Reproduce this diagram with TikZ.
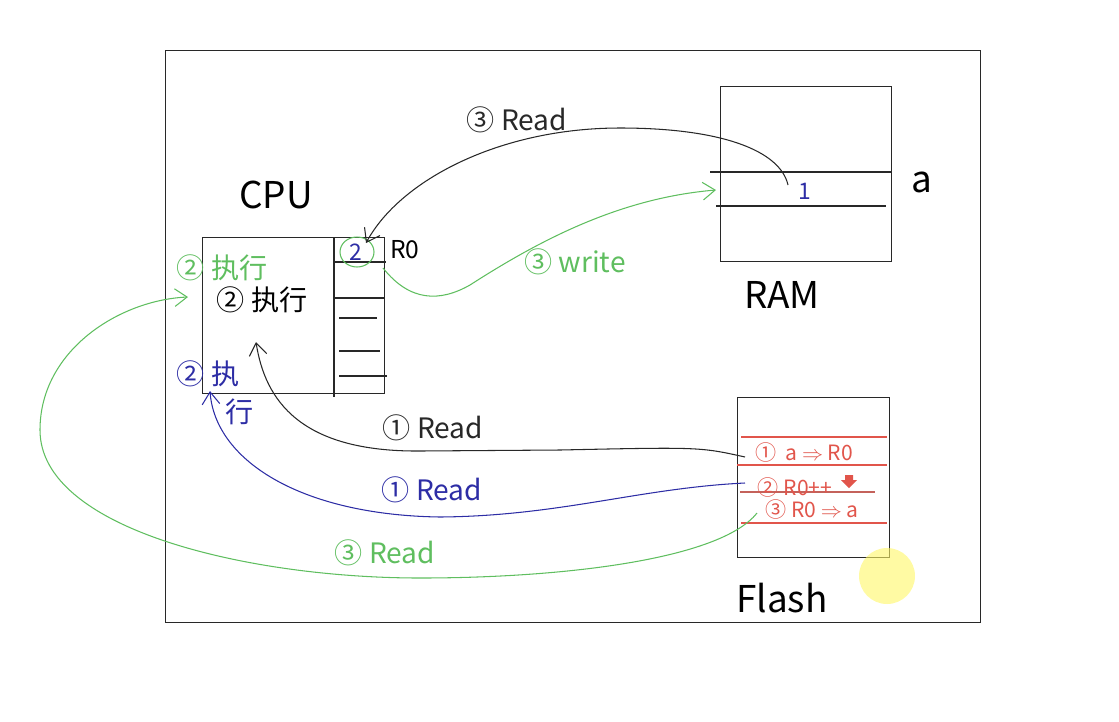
\documentclass[tikz,border=0pt]{standalone}
\usepackage{fontspec}
\setmainfont{Noto Sans CJK SC}
\usepackage{tikz}
\usetikzlibrary{arrows.meta, positioning}

\definecolor{inkblack}{RGB}{40,40,40}
\definecolor{inkgreen}{RGB}{95,190,95}
\definecolor{inkblue}{RGB}{45,45,165}
\definecolor{inkred}{RGB}{225,85,75}

\tikzset{
    box/.style={draw=inkblack, line width=0.8pt, inner sep=0pt, anchor=north west},
    ink/.style={line width=0.6pt},
    hand/.style={-{Straight Barb[length=7pt, width=10pt]}, line width=0.6pt},
    lbl/.style={inner sep=0pt, font=\fontsize{16}{16}\selectfont},
    big/.style={inner sep=0pt, font=\fontsize{21}{21}\selectfont},
    small/.style={inner sep=0pt, text=inkred, font=\fontsize{12}{12}\selectfont}
}

\begin{document}
\begin{tikzpicture}[x=0.02cm, y=-0.02cm]
        \useasboundingbox (0,0) rectangle (1119,721);

        \node[box, minimum width=16.3cm, minimum height=11.44cm] (frame) at (165,50) {};
        \node[box, minimum width=3.42cm, minimum height=3.5cm] (ram) at (720,86) {};
        \node[box, minimum width=3.64cm, minimum height=3.12cm] (cpu) at (202,237) {};
        \node[box, minimum width=3.04cm, minimum height=3.2cm] (flash) at (737,397) {};

        % RAM cell
        \draw[inkblack, ink] (710,172) -- (891,172);
        \draw[inkblack, ink] (716,206) -- (886,206);

        % CPU registers
        \draw[inkblack, ink] (334,237) -- (334,397);
        \draw[inkblack, ink] (334,262) -- (386,262);
        \draw[inkblack, ink] (334,298) -- (384,298);
        \draw[inkblack, ink] (339,318) -- (377,318);
        \draw[inkblack, ink] (339,351) -- (380,351);
        \draw[inkblack, ink] (339,376) -- (387,376);

        % Flash rows
        \draw[inkred, ink] (741,437) -- (887,437);
        \draw[inkred, ink] (737,465) -- (887,465);
        \draw[inkred!70!gray, ink] (740,492) -- (875,492);
        \draw[inkred, ink] (741,523) -- (887,523);

        \node[big] (cpulbl) at (276,195) {CPU};
        \node[big] (ramlbl) at (782,295) {RAM};
        \node[big] (flashlbl) at (782,598) {Flash};
        \node[big] (alabel) at (922,182) {a};
        \node[lbl, font=\fontsize{14}{14}\selectfont] (r0) at (405,250) {R0};
        \node[lbl, text=inkblue, font=\fontsize{13}{13}\selectfont] (regval) at (356,252) {2};
        \node[lbl, text=inkblue, font=\fontsize{13}{13}\selectfont] (ramval) at (805,191) {1};
        \draw[inkgreen, ink] (357,252) ellipse (17 and 15);

        \node[inner sep=0pt, font=\fontsize{16}{16}\selectfont] (exec) at (262,300) {② 执行};
        \node[lbl, text=inkgreen] (execg) at (222,268) {② 执行};
        \node[lbl, text=inkblue] (execb) at (208,374) {② 执};
        \node[lbl, text=inkblue] (execb2) at (240,412) {行};

        \node[small] (step1) at (804,452) {① \ a $\Rightarrow$ R0};
        \node[small] (step2) at (795,487) {② R0++};
        \node[small] (step3) at (812,509) {③ R0 $\Rightarrow$ a};
        \fill[inkred] (845,475) -- (853,475) -- (853,480) -- (857,480) -- (849,488) -- (841,480) -- (845,480) -- cycle;

        \coordinate (ramcell) at (788,185);
        \coordinate (regtop) at (366,243);
        \coordinate (regring) at (383,268);
        \coordinate (ramleft) at (716,190);
        \coordinate (row1) at (745,457);
        \coordinate (row2) at (745,483);
        \coordinate (row3) at (757,513);
        \coordinate (cpuin) at (256,342);
        \coordinate (cpucorner) at (210,391);
        \coordinate (cpuleft) at (188,297);

        \draw[hand, inkblack] (ramcell) .. controls (780,150) and (720,128) .. (620,128)
            .. controls (500,128) and (400,180) .. (regtop);
        \draw[hand, inkgreen] (regring) .. controls (410,302) and (440,302) .. (470,285)
            .. controls (540,240) and (620,198) .. (ramleft);
        \draw[hand, inkblack] (row1) .. controls (700,447) .. (560,450) -- (420,451)
            .. controls (300,452) and (265,400) .. (cpuin);
        \draw[hand, inkblue] (row2) .. controls (640,488) and (560,516) .. (440,517)
            .. controls (300,515) and (215,460) .. (cpucorner);
        \draw[hand, inkgreen] (row3) .. controls (720,560) and (560,578) .. (420,578)
            .. controls (250,578) and (40,530) .. (40,430)
            .. controls (40,350) and (120,300) .. (cpuleft);

        \node[lbl, text=inkblack] (rd3) at (517,120) {③ Read};
        \node[lbl, text=inkgreen] (wr3) at (575,262) {③ write};
        \node[lbl, text=inkblack] (rd1) at (433,428) {① Read};
        \node[lbl, text=inkblue] (rd1b) at (432,490) {① Read};
        \node[lbl, text=inkgreen] (rd3g) at (385,553) {③ Read};

        \fill[yellow!60, opacity=0.6] (887,576) circle (28);
\end{tikzpicture}
\end{document}
